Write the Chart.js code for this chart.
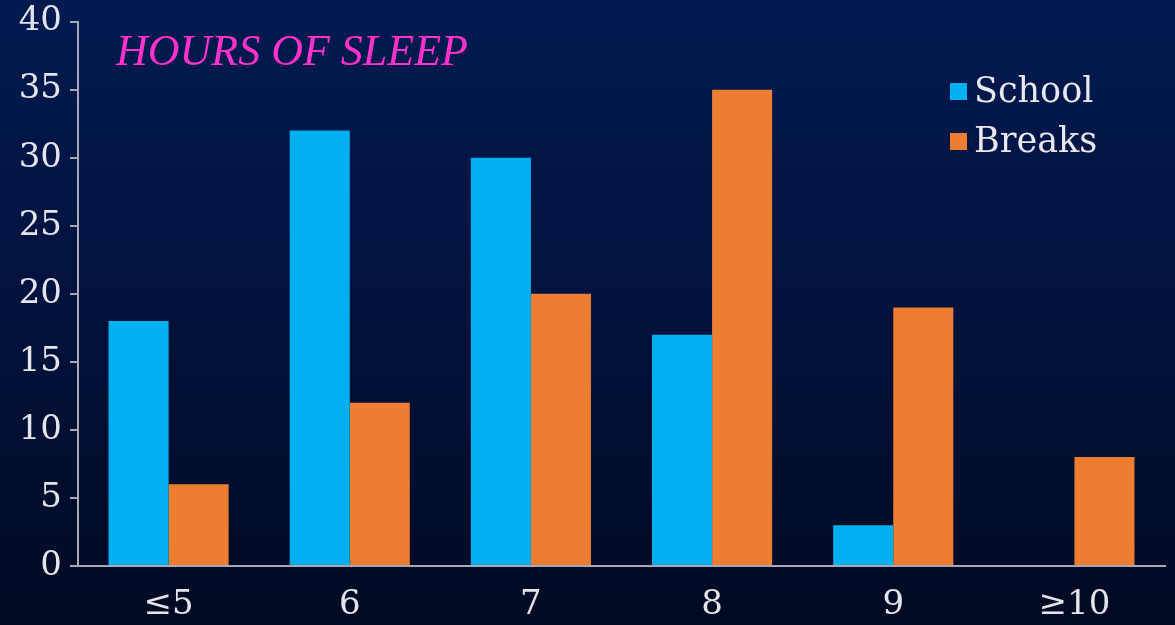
<!DOCTYPE html>
<html>
<head>
<meta charset="utf-8">
<script src="https://cdn.jsdelivr.net/npm/chart.js@4/dist/chart.umd.min.js"></script>
<style>
  html, body { margin: 0; padding: 0; }
  body {
    width: 1175px; height: 625px; overflow: hidden; position: relative;
    background: linear-gradient(to bottom, #011a50 0%, #01123c 50%, #020a22 100%);
  }
  #wrap { position: absolute; left: 0; top: 0; width: 1175px; height: 625px; }
  .title {
    position: absolute; left: 116px; top: 25px;
    font-family: "Liberation Serif", serif; font-style: italic;
    font-size: 44px; color: #ff33cc; white-space: nowrap;
  }
  .legend { position: absolute; left: 950px; top: 68px; font-family: "DejaVu Serif", serif; font-size: 35px; color: #e8e8ee; }
  .legend div { height: 50px; line-height: 44px; white-space: nowrap; }
  .legend i { display: inline-block; width: 17px; height: 17px; margin-right: 7px; vertical-align: 2px; }
</style>
</head>
<body>
<div id="wrap"><canvas id="js-chart" width="1175" height="625"></canvas></div>
<div class="title">HOURS OF SLEEP</div>
<div class="legend js-legend"></div>
<script>
const categories = ["≤5", "6", "7", "8", "9", "≥10"];
const school = [18, 32, 30, 17, 3, 0];
const breaks = [6, 12, 20, 35, 19, 8];
const seriesNames = ["School", "Breaks"];
const seriesColors = ["#00b0f0", "#ed7d31"];

const tickColor = "#e4e4ea";
const axisColor = "#a8a8b4";
const font = { family: "DejaVu Serif", size: 34 };

const legend = document.querySelector(".js-legend");
legend.innerHTML = seriesNames.map((name, i) =>
  `<div><i style="background:${seriesColors[i]}"></i>${name}</div>`).join("");

Chart.defaults.color = tickColor;

new Chart(document.getElementById("js-chart"), {
  type: "bar",
  data: {
    labels: categories,
    datasets: [
      { label: seriesNames[0], data: school, backgroundColor: seriesColors[0] },
      { label: seriesNames[1], data: breaks, backgroundColor: seriesColors[1] },
    ],
  },
  options: {
    responsive: false,
    animation: false,
    datasets: { bar: { barPercentage: 1, categoryPercentage: 0.663 } },
    layout: { padding: { top: 20, right: 10, left: 0, bottom: 0 } },
    plugins: { legend: { display: false }, tooltip: { enabled: false } },
    scales: {
      x: {
        grid: { display: true, drawOnChartArea: false, drawTicks: false },
        border: { display: true, color: axisColor, width: 2 },
        ticks: { font, color: tickColor, padding: 19 },
        afterFit: (scale) => { scale.height = 59; },
      },
      y: {
        min: 0,
        max: 40,
        ticks: { stepSize: 5, font: { ...font, lineHeight: 0.8 }, color: tickColor, padding: 8 },
        grid: { display: true, drawOnChartArea: false, drawTicks: true, tickLength: 8, color: axisColor, lineWidth: 2 },
        border: { display: true, color: axisColor, width: 2 },
        afterFit: (scale) => { scale.width = 78; },
      },
    },
  },
});
</script>
</body>
</html>
